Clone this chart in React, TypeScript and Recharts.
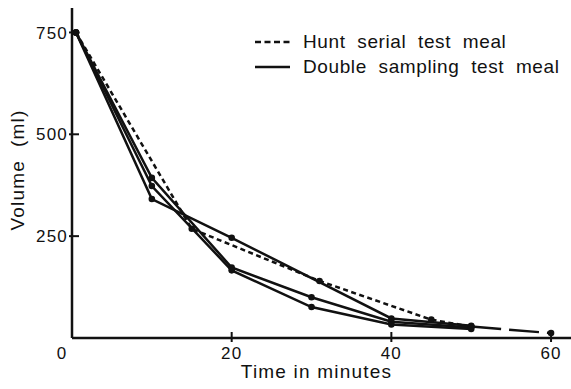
import { LineChart, Line, XAxis, YAxis } from "recharts";

// minutes after the meal vs. volume left in the stomach (ml)
const huntSerial = [
  { t: 0.5, v: 750 },
  { t: 15, v: 268 },
  { t: 31, v: 140 },
  { t: 45, v: 45 },
  { t: 50, v: 28 },
];
const huntTail = [
  { t: 50, v: 28 },
  { t: 60, v: 12 },
];
const doubleA = [
  { t: 0.5, v: 750 },
  { t: 10, v: 341 },
  { t: 20, v: 246 },
  { t: 40, v: 48 },
  { t: 50, v: 30 },
];
const doubleB = [
  { t: 0.5, v: 750 },
  { t: 10, v: 393 },
  { t: 20, v: 173 },
  { t: 30, v: 100 },
  { t: 40, v: 40 },
  { t: 50, v: 26 },
];
const doubleC = [
  { t: 0.5, v: 750 },
  { t: 10, v: 373 },
  { t: 20, v: 166 },
  { t: 30, v: 76 },
  { t: 40, v: 33 },
  { t: 50, v: 22 },
];

const xTicks = [0, 20, 40, 60];
const yTicks = [250, 500, 750];
const keyLabels = ["Hunt  serial  test  meal", "Double  sampling  test  meal"];

const FONT = "'Liberation Sans', Arial, sans-serif";
const INK = "#111";

function YTick({ x, y, payload }: any) {
  return (
    <g>
      <line x1={x + 1} x2={x + 11} y1={y} y2={y} stroke={INK} strokeWidth={2} />
      <text
        x={x}
        y={y}
        dy="0.36em"
        textAnchor="end"
        fontFamily={FONT}
        fontSize={17}
        letterSpacing={1.2}
        fill={INK}
      >
        {payload.value}
      </text>
    </g>
  );
}

function XTick({ x, y, payload }: any) {
  const zero = payload.value === 0;
  return (
    <g>
      {!zero && (
        <line x1={x} x2={x} y1={y - 15} y2={y - 5} stroke={INK} strokeWidth={2} />
      )}
      <text
        x={zero ? x - 10 : x}
        y={y}
        dy="0.71em"
        textAnchor="middle"
        fontFamily={FONT}
        fontSize={17}
        letterSpacing={1.2}
        fill={INK}
      >
        {payload.value}
      </text>
    </g>
  );
}

function VolumeLabel() {
  return (
    <text
      x={24}
      y={170}
      transform="rotate(-90 24 170)"
      textAnchor="middle"
      fontFamily={FONT}
      fontSize={19}
      letterSpacing={1.2}
      fill={INK}
    >
      Volume&#160;&#160;(ml)
    </text>
  );
}

// legend drawn as an overlay so it doesn't eat into the plot area
function Key() {
  const row = { display: "flex", alignItems: "center", height: 25 };
  const txt = {
    marginLeft: 13,
    fontFamily: FONT,
    fontSize: 19,
    letterSpacing: 0.6,
    color: INK,
    whiteSpace: "pre" as const,
  };
  return (
    <div style={{ position: "absolute", left: 255, top: 29 }}>
      {keyLabels.map((label, i) => (
        <div key={label} style={row}>
          <svg width={35} height={10} style={{ flexShrink: 0 }}>
            <line
              x1={0}
              x2={35}
              y1={5}
              y2={5}
              stroke={INK}
              strokeWidth={2.5}
              strokeDasharray={i === 0 ? "6 3.5" : undefined}
            />
          </svg>
          <span style={txt}>{label}</span>
        </div>
      ))}
    </div>
  );
}

const dot = { r: 3.3, fill: INK, stroke: INK, strokeWidth: 0 };

export default function App() {
  return (
    <div style={{ position: "absolute", left: 0, top: 0, width: 571, height: 389, background: "#fff" }}>
      <LineChart width={571} height={389} margin={{ top: 8, right: 0, bottom: 21, left: 0 }}>
        <XAxis
          dataKey="t"
          type="number"
          domain={[0, 62.5]}
          ticks={xTicks}
          allowDataOverflow
          height={30}
          axisLine={{ stroke: INK, strokeWidth: 2.5 }}
          tickLine={false}
          tickSize={0}
          tickMargin={9}
          tick={<XTick />}
          label={{
            value: "Time in minutes",
            position: "bottom",
            offset: -3,
            dx: -5,
            fontFamily: FONT,
            fontSize: 19,
            letterSpacing: 1.2,
            fill: INK,
          }}
        />
        <YAxis
          dataKey="v"
          type="number"
          domain={[0, 810]}
          ticks={yTicks}
          width={72}
          axisLine={{ stroke: INK, strokeWidth: 2.5 }}
          tickLine={false}
          tickSize={0}
          tickMargin={4}
          tick={<YTick />}
          label={<VolumeLabel />}
        />
        <Line data={huntSerial} dataKey="v" stroke={INK} strokeWidth={2.5} strokeDasharray="5 3.5" dot={dot} isAnimationActive={false} />
        <Line data={huntTail} dataKey="v" stroke={INK} strokeWidth={2.5} strokeDasharray="30 8" dot={dot} isAnimationActive={false} />
        <Line data={doubleA} dataKey="v" stroke={INK} strokeWidth={2.5} dot={dot} isAnimationActive={false} />
        <Line data={doubleB} dataKey="v" stroke={INK} strokeWidth={2.5} dot={dot} isAnimationActive={false} />
        <Line data={doubleC} dataKey="v" stroke={INK} strokeWidth={2.5} dot={dot} isAnimationActive={false} />
      </LineChart>
      <Key />
    </div>
  );
}
